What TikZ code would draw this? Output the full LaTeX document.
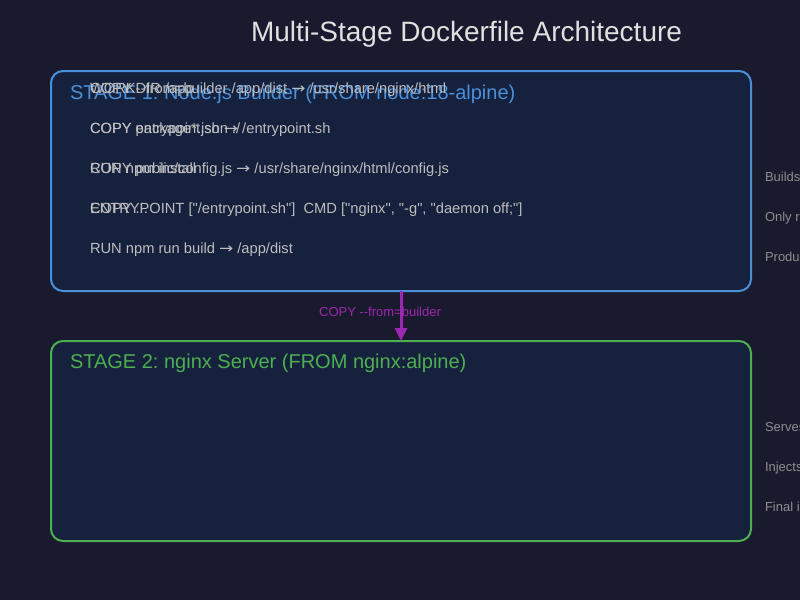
\documentclass[tikz,border=0pt]{standalone}
\usepackage{fontspec}
\setmainfont{Liberation Sans}[Ligatures=TeXOff]
\newfontfamily\arrowfont{DejaVu Sans}
\newcommand\rarr{\scalebox{1.15}[1.0]{\arrowfont →}}
\usetikzlibrary{arrows.meta}
\definecolor{bg}{HTML}{1A1A2E}
\definecolor{boxfill}{HTML}{16213E}
\definecolor{stageblue}{HTML}{4A90D9}
\definecolor{stagegreen}{HTML}{4CAF50}
\definecolor{copypurple}{HTML}{9C27B0}
\definecolor{titlegray}{HTML}{E0E0E0}
\definecolor{cmdgray}{HTML}{BDBDBD}
\definecolor{sidegray}{HTML}{8E8E8E}
\begin{document}
\frenchspacing
\begin{tikzpicture}[x=1pt,y=-1pt,
  stagebox/.style={draw, line width=2pt, fill=boxfill, rounded corners=12pt,
    minimum width=700pt, inner sep=0pt, outer sep=0pt},
  txt/.style={anchor=base west, inner sep=0pt, outer sep=0pt},
  stagetitle/.style={txt, font=\fontsize{20}{24}\selectfont},
  cmd/.style={txt, text=cmdgray, font=\fontsize{14.7}{17}\selectfont},
  side/.style={txt, text=sidegray, font=\fontsize{13}{15}\selectfont},
  copyarrow/.style={draw=copypurple, line width=3pt,
    -{Triangle[length=13pt,width=12pt]}}
]
\useasboundingbox (0,0) rectangle (800,600);
\fill[bg] (0,0) rectangle (800,600);
\clip (0,0) rectangle (800,600);

\node[txt, text=titlegray, font=\fontsize{28}{34}\selectfont] (title) at (251,41) {Multi-Stage Dockerfile Architecture};

\node[stagebox, draw=stageblue, minimum height=220pt] (s1) at (401,181) {};
\node[stagebox, draw=stagegreen, minimum height=200pt] (s2) at (401,441) {};

\draw[copyarrow] (s1.south) -- (s2.north);
\node[txt, anchor=base, text=copypurple, font=\fontsize{13}{15}\selectfont] (copylbl) at (380,316) {COPY --from=builder};

\node[stagetitle, text=stageblue] (t1) at (70,99) {STAGE 1: Node.js Builder (FROM node:18-alpine)};
\node[stagetitle, text=stagegreen] (t2) at (70,368) {STAGE 2: nginx Server (FROM nginx:alpine)};

% Stage 1 commands
\node[cmd] (a1) at (90,93) {WORKDIR /app};
\node[cmd] (a2) at (90,133) {COPY package*.json ./};
\node[cmd] (a3) at (90,173) {RUN npm install};
\node[cmd] (a4) at (90,213) {COPY . .};
\node[cmd] (a5) at (90,253) {RUN npm run build \rarr{} /app/dist};
% Stage 2 commands (drawn at the same places)
\node[cmd] (b1) at (90,93) {COPY --from=builder /app/dist \rarr{} /usr/share/nginx/html};
\node[cmd] (b2) at (90,133) {COPY entrypoint.sh \rarr{} /entrypoint.sh};
\node[cmd] (b3) at (90,173) {COPY public/config.js \rarr{} /usr/share/nginx/html/config.js};
\node[cmd] (b4) at (90,213) {ENTRYPOINT ["/entrypoint.sh"]\ \ CMD ["nginx", "-g", "daemon off;"]};

% side notes (cut off at the right edge)
\node[side] (n1) at (765,181.5) {Builds the application};
\node[side] (n2) at (765,221.5) {Only runtime files kept};
\node[side] (n3) at (765,261.5) {Produces static assets};
\node[side] (n4) at (765,431.5) {Serves static files};
\node[side] (n5) at (765,471.5) {Injects runtime config};
\node[side] (n6) at (765,511.5) {Final image is small};
\end{tikzpicture}
\end{document}
